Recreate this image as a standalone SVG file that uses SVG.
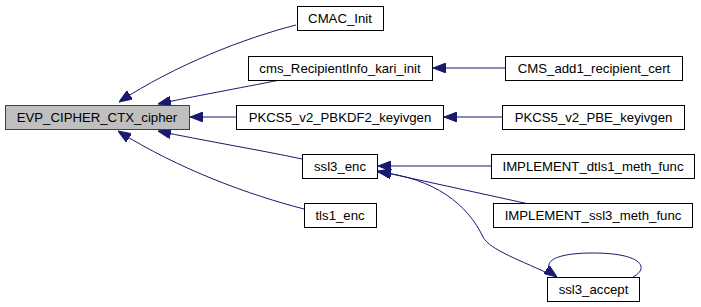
<svg xmlns="http://www.w3.org/2000/svg" width="701" height="307" viewBox="0 0 701 307">
  <style>
    .node rect { fill: #ffffff; stroke: #000000; stroke-width: 1; }
    .node.root rect { fill: #bfbfbf; stroke: #404040; }
    .node text { font-family: "Liberation Sans", Arial, Helvetica, sans-serif; font-size: 13.2px; fill: #000000; text-anchor: middle; }
    .edge { fill: none; stroke: #191970; stroke-width: 1; marker-end: url(#arrow); }
  </style>
  <defs>
    <marker id="arrow" viewBox="0 0 13 10" refX="13" refY="5" markerWidth="13" markerHeight="10" markerUnits="userSpaceOnUse" orient="auto">
      <path d="M0,0 L13,5 L0,10 Z" fill="#191970" stroke="#191970" stroke-width="1"/>
    </marker>
  </defs>
  <rect width="701" height="307" fill="#ffffff"/>

  <g id="edges">
    <path class="edge" d="M296,25 C245,38 175,65 119,102"/>
    <path class="edge" d="M280,80 C240,88 190,97 158,104"/>
    <path class="edge" d="M236,117 L190,117"/>
    <path class="edge" d="M302,159 C260,150 200,140 158,131"/>
    <path class="edge" d="M304,209 C250,195 180,170 118,131"/>
    <path class="edge" d="M505,68 L433,68"/>
    <path class="edge" d="M502,117 L444,117"/>
    <path class="edge" d="M491,166 L378,166"/>
    <path class="edge" d="M529,204 L378,171"/>
    <path class="edge" d="M556,277 C520,260 490,250 483,237 C468,205 435,178 378,172"/>
    <path class="edge" d="M633,277 C650,268 642,253 593,253 C548,253 540,265 557,277"/>
  </g>

  <g id="node-evp" class="node root">
    <rect x="5.5" y="105.5" width="184" height="24"/>
    <text x="97" y="121.5">EVP_CIPHER_CTX_cipher</text>
  </g>
  <g id="node-cmac" class="node">
    <rect x="297.5" y="6.5" width="86" height="24"/>
    <text x="340" y="22.5">CMAC_Init</text>
  </g>
  <g id="node-cms-kari" class="node">
    <rect x="248.5" y="56.5" width="184" height="24"/>
    <text x="340" y="72.5">cms_RecipientInfo_kari_init</text>
  </g>
  <g id="node-pbkdf2" class="node">
    <rect x="236.5" y="105.5" width="207" height="24"/>
    <text x="340" y="121.5">PKCS5_v2_PBKDF2_keyivgen</text>
  </g>
  <g id="node-ssl3-enc" class="node">
    <rect x="302.5" y="154.5" width="75" height="24"/>
    <text x="340" y="170.5">ssl3_enc</text>
  </g>
  <g id="node-tls1-enc" class="node">
    <rect x="304.5" y="203.5" width="72" height="24"/>
    <text x="340" y="219.5">tls1_enc</text>
  </g>
  <g id="node-cms-add1" class="node">
    <rect x="505.5" y="56.5" width="177" height="24"/>
    <text x="594" y="72.5">CMS_add1_recipient_cert</text>
  </g>
  <g id="node-pbe" class="node">
    <rect x="502.5" y="105.5" width="182" height="24"/>
    <text x="593.5" y="121.5">PKCS5_v2_PBE_keyivgen</text>
  </g>
  <g id="node-dtls1-meth" class="node">
    <rect x="491.5" y="154.5" width="203" height="24"/>
    <text x="593" y="170.5">IMPLEMENT_dtls1_meth_func</text>
  </g>
  <g id="node-ssl3-meth" class="node">
    <rect x="493.5" y="203.5" width="199" height="24"/>
    <text x="593" y="219.5">IMPLEMENT_ssl3_meth_func</text>
  </g>
  <g id="node-ssl3-accept" class="node">
    <rect x="547.5" y="277.5" width="92" height="24"/>
    <text x="593.5" y="293.5">ssl3_accept</text>
  </g>
</svg>
